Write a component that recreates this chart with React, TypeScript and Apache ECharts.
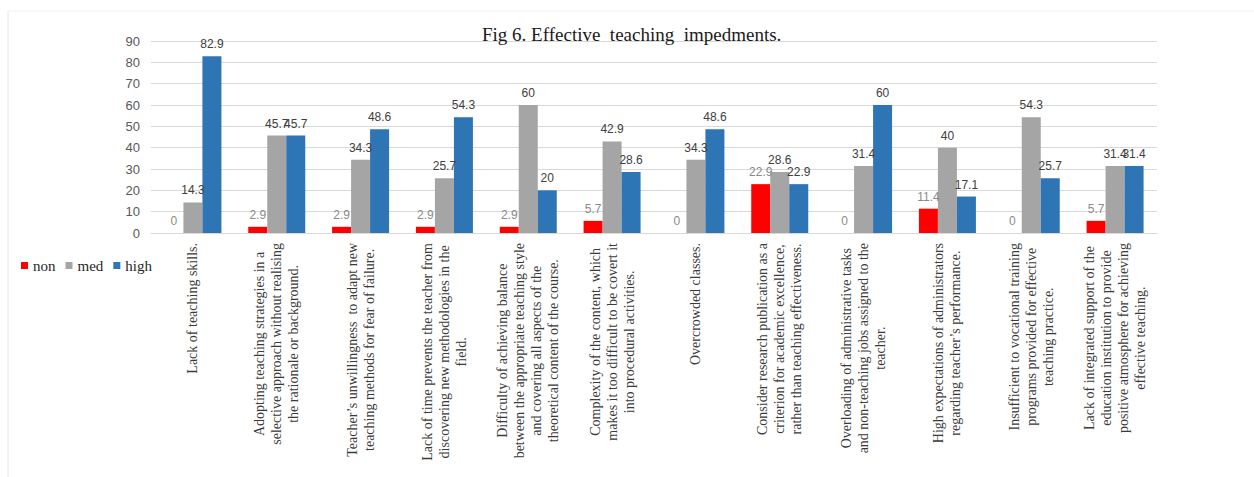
import React, { useEffect, useRef } from "react";
import * as echarts from "echarts";

const categories: string[][] = [
  ["Lack of teaching skills."],
  ["Adopting teaching strategies in a", "selective approach without realising", "the rationale or background."],
  ["Teacher\u2019s unwillingness  to adapt new", "teaching methods for fear of failure."],
  ["Lack of time prevents the teacher from", "discovering new methodologies in the", "field."],
  ["Difficulty of achieving balance", "between the appropriate teaching style", "and covering all aspects of the", "theoretical content of the course."],
  ["Complexity of the content, which", "makes it too difficult to be covert it", "into procedural activities."],
  ["Overcrowded classes."],
  ["Consider research publication as a", "criterion for academic excellence,", "rather than teaching effectiveness."],
  ["Overloading of administrative tasks", "and non-teaching jobs assigned to the", "teacher."],
  ["High expectations of administrators", "regarding teacher\u2019s performance."],
  ["Insufficient to vocational training", "programs provided for effective", "teaching practice."],
  ["Lack of integrated support of the", "education institution to provide", "positive atmosphere for achieving", "effective teaching."],
];

const nonValues = [0, 2.9, 2.9, 2.9, 2.9, 5.7, 0, 22.9, 0, 11.4, 0, 5.7];
const medValues = [14.3, 45.7, 34.3, 25.7, 60, 42.9, 34.3, 28.6, 31.4, 40, 54.3, 31.4];
const highValues = [82.9, 45.7, 48.6, 54.3, 20, 28.6, 48.6, 22.9, 60, 17.1, 25.7, 31.4];

const seriesNames = ["non", "med", "high"];
const yTicks = { min: 0, max: 90, interval: 10 };
const titleText = "Fig 6. Effective  teaching  impedments.";

const SERIF = "'Liberation Serif', 'Times New Roman', serif";
const SANS = "'Liberation Sans', Arial, sans-serif";
const CAT_FONT_SIZE = 14;

export default function App() {
  const ref = useRef<HTMLDivElement>(null);
  useEffect(() => {
    if (!ref.current) return;
    const chart = echarts.init(ref.current, null, { renderer: "svg" });
    const catKeys = categories.map((_, i) => "c" + i);

    // measure lines so each line of a label can be centred within its block
    const canvas = document.createElement("canvas");
    const ctx = canvas.getContext("2d");
    if (ctx) ctx.font = `${CAT_FONT_SIZE}px 'Liberation Serif'`;
    const rich: Record<string, any> = {
      c: { fontFamily: SERIF, fontSize: CAT_FONT_SIZE, lineHeight: 17, color: "#3a3a3a" },
    };
    const formatted: string[] = categories.map((lines, i) => {
      const widths = lines.map((l) => (ctx ? ctx.measureText(l).width : l.length * 6));
      const maxW = Math.max(...widths);
      return lines
        .map((l, j) => {
          const pad = (maxW - widths[j]) / 2;
          if (pad < 0.5) return "{c|" + l + "}";
          const key = "p" + i + "_" + j;
          rich[key] = { width: pad, fontSize: CAT_FONT_SIZE, lineHeight: 17 };
          return "{c|" + l + "}{" + key + "| }";
        })
        .join("\n");
    });

    const labelStyle = (color: string) => ({
      show: true,
      position: "top" as const,
      distance: 6,
      color,
      fontFamily: SANS,
      fontSize: 12,
    });
    chart.setOption({
      animation: false,
      backgroundColor: "#ffffff",
      title: {
        text: titleText,
        left: 477,
        top: 20,
        textStyle: { fontFamily: SERIF, fontSize: 19, fontWeight: "normal", color: "#1a1a1a" },
      },
      legend: {
        data: seriesNames,
        left: 16,
        top: 253,
        icon: "rect",
        itemWidth: 7,
        itemHeight: 7,
        itemGap: 10,
        textStyle: { fontFamily: SERIF, fontSize: 15, color: "#262626" },
      },
      grid: { left: 151, right: 97, top: 41, bottom: 244, containLabel: false },
      xAxis: {
        type: "category",
        data: catKeys,
        axisLine: { show: true, lineStyle: { color: "#d9d9d9", width: 1 } },
        axisTick: { show: false },
        axisLabel: {
          interval: 0,
          rotate: 90,
          margin: 10,
          fontFamily: SERIF,
          fontSize: CAT_FONT_SIZE,
          lineHeight: 17,
          color: "#3a3a3a",
          formatter: (v: string) => formatted[Number(v.slice(1))],
          rich,
        },
      },
      yAxis: {
        type: "value",
        min: yTicks.min,
        max: yTicks.max,
        interval: yTicks.interval,
        axisLine: { show: false },
        axisTick: { show: false },
        axisLabel: { fontFamily: SANS, fontSize: 13, color: "#595959", margin: 11 },
        splitLine: { lineStyle: { color: "#d9d9d9", width: 1 } },
      },
      series: [
        {
          name: seriesNames[0],
          type: "bar",
          data: nonValues,
          itemStyle: { color: "#ff0000" },
          barGap: "0%",
          barCategoryGap: "32%",
          label: labelStyle("#8a8a8a"),
        },
        {
          name: seriesNames[1],
          type: "bar",
          data: medValues,
          itemStyle: { color: "#a5a5a5" },
          barGap: "0%",
          barCategoryGap: "32%",
          label: labelStyle("#404040"),
        },
        {
          name: seriesNames[2],
          type: "bar",
          data: highValues,
          itemStyle: { color: "#2e75b6" },
          barGap: "0%",
          barCategoryGap: "32%",
          label: labelStyle("#404040"),
        },
      ],
      graphic: [
        { type: "line", shape: { x1: 8, y1: 11, x2: 1254, y2: 11 }, style: { stroke: "#f2f2f2", lineWidth: 1 } },
        { type: "line", shape: { x1: 8, y1: 11, x2: 8, y2: 477 }, style: { stroke: "#e6e6e6", lineWidth: 1 } },
      ],
    });
    return () => chart.dispose();
  }, []);
  return (
    <div
      ref={ref}
      style={{ position: "absolute", left: 0, top: 0, width: 1254, height: 477 }}
    />
  );
}
